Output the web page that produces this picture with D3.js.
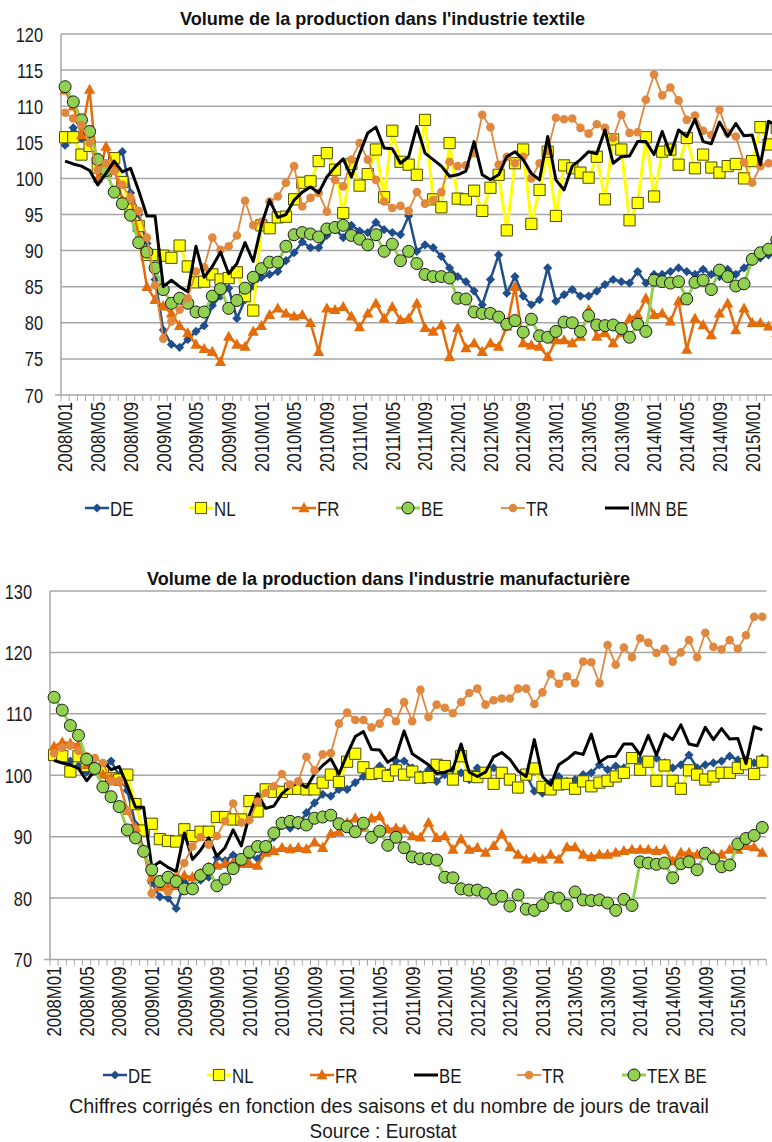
<!DOCTYPE html>
<html>
<head>
<meta charset="utf-8">
<script src="https://cdn.jsdelivr.net/npm/d3@7"></script>
<style>
  body { margin: 0; background: #fff; }
  svg { display: block; font-family: "Liberation Sans", Arial, sans-serif; }
</style>
</head>
<body>
<svg id="chart" width="772" height="1142"></svg>
<script>
// categories: 2008M01 .. 2015M04
const months = d3.range(88).map(i => `${2008 + Math.floor(i / 12)}M${String(i % 12 + 1).padStart(2, "0")}`);

// textile industry (top chart)
const deTex = [104.6,107.0,105.5,105.0,101.5,102.0,102.5,103.7,98.0,95.0,91.0,86.0,79.0,77.0,76.6,77.7,78.8,79.6,82.4,83.7,84.8,80.6,83.2,85.1,86.3,86.7,87.1,88.6,89.7,91.2,90.4,90.4,92.1,93.0,91.8,93.5,92.7,92.5,93.9,92.9,92.5,92.2,94.8,89.9,90.8,90.4,89.2,87.6,86.4,85.7,84.4,82.5,86.0,89.4,84.1,86.4,83.7,82.5,83.2,87.6,83.0,83.9,84.6,83.7,83.7,84.4,85.3,86.0,85.7,85.5,87.1,85.5,86.7,86.7,87.1,87.6,87.1,86.7,87.4,86.7,86.4,87.4,86.7,87.6,88.5,89.0,89.4,89.9];
const nlTex = [105.7,105.7,103.3,104.5,101.5,101.0,102.8,99.5,95.7,93.4,89.4,89.4,89.3,89.0,90.7,87.8,85.6,85.7,86.7,86.0,86.2,87.0,83.7,81.7,93.5,93.1,94.6,94.7,97.1,99.4,99.6,102.4,103.5,101.2,95.2,102.0,99.0,100.6,104.0,97.4,106.6,102.3,101.9,100.5,108.1,97.1,96.0,104.9,97.2,97.1,98.3,95.5,98.7,100.5,92.8,102.1,104.0,93.7,98.4,103.7,94.8,101.8,101.4,100.8,100.1,103.0,97.1,105.4,104.0,94.2,96.6,105.7,97.5,103.7,104.0,101.9,105.6,101.4,103.3,101.5,100.8,101.7,102.0,100.0,102.4,107.1,104.7,107.0];
const frTex = [112.2,110.0,106.0,112.3,100.0,104.4,101.5,97.0,97.5,92.0,85.0,83.2,82.3,81.3,79.6,78.6,77.0,76.4,76.0,74.6,78.1,77.0,76.7,78.8,79.6,81.1,82.0,81.3,80.9,81.1,80.0,76.0,82.0,81.8,82.2,80.9,79.4,81.3,82.7,80.6,82.2,80.4,80.6,82.7,79.3,78.8,79.7,75.3,79.3,76.5,77.2,76.0,77.2,76.7,79.5,85.0,77.2,76.9,76.7,75.3,77.6,77.6,77.2,78.1,81.8,78.1,78.6,77.2,78.6,80.6,81.1,83.4,81.1,81.3,80.2,83.0,76.3,80.6,79.7,78.3,81.3,82.7,79.0,82.0,80.0,80.0,79.5,78.6];
const trTex = [109.1,108.3,107.4,104.9,101.2,102.1,101.0,99.1,97.3,95.5,91.8,85.2,77.8,80.2,81.8,83.4,87.1,87.7,91.8,90.1,90.6,92.1,96.9,93.5,94.0,96.8,97.5,99.4,101.7,96.1,97.3,98.0,95.4,99.8,98.9,102.6,104.9,102.6,99.8,96.8,95.9,96.2,95.5,98.1,96.5,97.0,98.1,102.3,101.7,101.8,103.5,108.8,107.1,101.9,103.0,102.1,103.0,100.0,102.1,103.8,108.4,108.2,108.3,107.0,106.2,107.5,107.0,105.6,108.8,106.3,106.4,110.9,114.4,111.5,112.6,110.8,108.1,108.7,106.6,106.0,109.5,106.3,105.8,102.2,99.4,101.7,102.1,102.6];
// Belgium: textile (green) and manufacturing (black), shown in both charts
const beTex = [112.7,110.6,108.1,106.5,102.6,101.1,98.1,96.5,94.9,91.1,89.8,87.6,84.6,82.7,83.4,82.7,81.5,81.5,83.7,84.7,82.0,83.1,84.8,86.3,87.5,88.4,88.4,90.6,92.2,92.5,92.3,91.9,93.0,93.2,93.5,92.1,91.6,90.8,92.2,89.9,90.9,88.6,89.9,88.2,86.7,86.4,86.4,86.2,83.4,83.3,81.5,81.3,81.3,80.8,79.8,80.3,78.7,80.5,78.2,78.0,78.8,80.1,80.0,78.8,81.0,79.7,79.6,79.7,79.2,78.0,79.8,78.8,85.9,85.7,85.5,85.7,83.3,85.6,85.9,84.6,87.3,86.4,85.1,85.4,88.8,89.7,90.2,91.5];
const beMan = [102.4,102.0,101.7,101.1,99.1,100.7,102.4,100.9,101.4,98.3,94.8,94.8,85.0,85.9,85.0,84.3,90.6,86.3,87.8,89.8,86.8,88.2,91.1,88.5,93.5,97.0,94.6,95.0,97.0,98.1,98.8,98.0,100.2,101.6,102.7,100.2,103.4,106.3,107.1,104.2,104.1,102.1,103.0,107.2,103.5,102.6,101.7,100.3,100.5,101.0,105.1,100.5,99.8,100.5,103.0,103.7,102.6,100.7,99.8,105.8,99.8,98.4,101.7,102.6,103.7,103.4,106.7,102.1,103.0,103.1,105.1,105.1,103.3,106.5,103.3,106.7,105.8,108.2,105.1,104.8,107.8,105.8,107.6,105.9,106.0,101.9,107.9,107.4];

// manufacturing industry (bottom chart)
const deMan = [103.0,103.0,102.3,101.5,100.5,101.0,101.0,102.3,100.0,97.5,92.0,88.0,82.5,80.2,80.0,78.3,82.6,82.0,82.9,83.4,86.6,86.1,87.0,86.4,86.9,86.4,88.2,89.9,91.8,91.4,91.8,93.9,95.5,96.9,96.6,97.7,97.7,98.8,99.8,100.1,101.5,100.4,102.3,102.3,101.2,100.1,100.9,99.0,100.1,100.9,100.4,99.3,101.2,100.4,101.2,100.4,99.0,98.0,100.1,97.4,97.1,98.8,99.8,99.0,99.3,100.1,100.4,101.7,100.9,101.5,101.2,102.5,102.5,102.3,102.8,102.0,101.2,101.7,103.3,101.2,101.7,102.0,102.3,103.1,102.5,102.5,102.0,102.8];
const nlMan = [103.3,103.1,100.6,103.1,101.5,101.0,100.5,99.5,99.3,100.1,95.3,91.0,92.1,89.6,89.3,89.2,91.2,90.1,90.8,90.8,93.2,93.2,92.8,92.8,95.8,94.1,97.7,97.3,97.3,97.8,97.8,97.7,97.7,98.8,100.1,98.9,102.2,103.5,101.3,100.2,100.4,99.9,100.8,100.1,100.6,99.6,99.7,101.7,101.5,99.3,103.1,99.9,99.7,100.4,98.6,100.4,99.3,98.0,100.1,101.1,98.1,97.7,98.5,98.6,97.8,99.0,98.2,98.8,99.1,99.8,100.4,102.8,100.9,102.2,99.1,101.6,99.1,97.8,100.8,100.1,99.3,99.8,100.4,100.4,101.2,101.8,100.2,102.2];
const frMan = [104.7,105.4,105.2,105.0,101.7,100.6,100.1,99.6,99.0,94.2,91.5,87.7,83.4,81.8,81.8,82.0,83.7,83.4,84.0,85.0,85.3,85.6,85.8,85.6,85.6,85.3,87.4,87.7,88.2,88.0,88.2,88.0,89.1,88.2,90.5,90.8,92.3,93.0,91.5,93.0,93.3,91.2,91.4,91.2,90.1,89.9,92.3,89.8,90.1,87.9,89.6,87.9,88.2,87.4,88.5,90.4,88.3,87.1,86.3,86.6,86.3,87.1,86.3,88.3,88.3,87.1,86.7,87.1,87.1,87.4,87.7,87.9,87.9,87.9,87.7,87.9,86.0,87.4,87.4,87.1,87.1,87.1,87.1,87.9,87.9,88.5,88.3,87.4];
const trMan = [103.6,104.5,104.8,104.0,103.1,102.8,102.0,99.0,99.1,94.2,91.2,87.7,80.8,82.6,81.0,83.5,85.7,88.4,89.9,88.7,90.1,92.5,95.4,92.3,92.7,95.7,97.1,98.2,100.2,98.5,99.0,103.0,100.8,103.4,103.6,108.4,110.2,109.0,109.0,107.8,108.4,110.3,108.8,111.9,108.8,113.9,109.5,111.5,111.0,110.1,111.9,113.4,114.1,111.5,112.2,112.5,112.5,114.1,114.1,111.6,113.5,116.5,114.9,116.1,115.0,118.5,118.4,115.0,121.2,118.0,120.8,119.2,122.3,121.6,119.9,120.6,118.5,120.0,122.0,119.2,123.2,120.9,120.5,122.0,120.6,122.8,125.8,125.8];

const topTicks = [70, 75, 80, 85, 90, 95, 100, 105, 110, 115, 120];
const bottomTicks = [70, 80, 90, 100, 110, 120, 130];

const C = {
  de: "#1F4E8C", nl: "#FFFF00", fr: "#E46C0A", green: "#92D050", tr: "#E0883E", black: "#000000"
};

const styles = {
  de:    { line: C.de, width: 2.5, marker: "diamond", fill: C.de, stroke: "none", r: 4.6 },
  nl:    { line: C.nl, width: 3, marker: "square", fill: C.nl, stroke: "#4d4d00", r: 5.6 },
  fr:    { line: C.fr, width: 2.5, marker: "triangle", fill: C.fr, stroke: "none", r: 5.6 },
  green: { line: C.green, width: 3, marker: "circle", fill: C.green, stroke: "#1a1a1a", r: 6 },
  tr:    { line: C.tr, width: 1.8, marker: "circle", fill: C.tr, stroke: "none", r: 4.3 },
  black: { line: C.black, width: 3, marker: null }
};

// Arial Narrow look: Liberation Sans squeezed horizontally
const NARROW = 0.82;

function markerPath(type, r) {
  if (type === "diamond") return `M0,${-r}L${r},0L0,${r}L${-r},0Z`;
  if (type === "square") return `M${-r},${-r}H${r}V${r}H${-r}Z`;
  if (type === "triangle") return `M0,${-r * 1.05}L${r},${r * 0.75}L${-r},${r * 0.75}Z`;
  return d3.symbol(d3.symbolCircle, Math.PI * r * r)();
}

const svg = d3.select("#chart");

function drawChart(cfg) {
  const g = svg.append("g");

  const x = d3.scaleBand().domain(months).range(cfg.xRange).padding(0);
  const y = d3.scaleLinear().domain([70, cfg.yMax]).range(cfg.yRange);
  const [x0, x1] = cfg.xRange;

  // gridlines
  g.selectAll(".grid")
    .data(cfg.ticks.filter(t => t > 70))
    .join("line")
    .attr("x1", x0).attr("x2", x1)
    .attr("y1", d => y(d)).attr("y2", d => y(d))
    .attr("stroke", "#A6A6A6").attr("stroke-width", 1.5);

  // y axis
  g.append("line")
    .attr("x1", x0).attr("x2", x0)
    .attr("y1", y(cfg.yMax)).attr("y2", y(70))
    .attr("stroke", "#A6A6A6").attr("stroke-width", 1.5);

  g.selectAll(".ylab")
    .data(cfg.ticks)
    .join("text")
    .attr("transform", d => `translate(${x0 - 18},${y(d) + 7.5}) scale(${NARROW},1)`)
    .attr("text-anchor", "end")
    .attr("font-size", 20)
    .attr("fill", "#1a1a1a")
    .text(d => d);

  // x axis with a tick at each category boundary
  g.append("line")
    .attr("x1", x0 - 6).attr("x2", x1)
    .attr("y1", y(70)).attr("y2", y(70))
    .attr("stroke", "#A6A6A6").attr("stroke-width", 1.5);

  g.selectAll(".xtick")
    .data(months.concat(["end"]))
    .join("line")
    .attr("x1", d => d === "end" ? x1 : x(d))
    .attr("x2", d => d === "end" ? x1 : x(d))
    .attr("y1", y(70)).attr("y2", y(70) + 6)
    .attr("stroke", "#A6A6A6").attr("stroke-width", 1);

  g.selectAll(".xlab")
    .data(months.filter((m, i) => i % 4 === 0))
    .join("text")
    .attr("transform", d => `translate(${x(d) + x.bandwidth() / 2 + 7.3},${y(70) + 7}) rotate(-90) scale(${NARROW},1)`)
    .attr("text-anchor", "end")
    .attr("font-size", 20.5)
    .attr("fill", "#1a1a1a")
    .text(d => d);

  // title
  g.append("text")
    .attr("x", cfg.titleX - cfg.titleW / 2).attr("y", cfg.titleY)
    .attr("textLength", cfg.titleW)
    .attr("lengthAdjust", "spacingAndGlyphs")
    .attr("font-size", 18.5).attr("font-weight", "bold")
    .attr("fill", "#111")
    .text(cfg.title);

  // series
  const clipId = "clip" + cfg.id;
  svg.append("clipPath").attr("id", clipId)
    .append("rect").attr("x", 0).attr("y", 0).attr("width", 772).attr("height", 1142);

  const line = d3.line()
    .x((d, i) => x(months[i]) + x.bandwidth() / 2)
    .y(d => y(d));

  cfg.series.forEach(s => {
    const st = styles[s.style];
    const sg = g.append("g").attr("clip-path", `url(#${clipId})`);
    sg.append("path")
      .attr("d", line(s.values))
      .attr("fill", "none")
      .attr("stroke", st.line)
      .attr("stroke-width", st.width)
      .attr("stroke-linejoin", "round");
    if (st.marker) {
      sg.selectAll("path.m")
        .data(s.values)
        .join("path")
        .attr("class", "m")
        .attr("transform", (d, i) => `translate(${x(months[i]) + x.bandwidth() / 2},${y(d)})`)
        .attr("d", markerPath(st.marker, st.r))
        .attr("fill", st.fill)
        .attr("stroke", st.stroke)
        .attr("stroke-width", 1);
    }
  });

  // legend
  const lg = g.append("g");
  cfg.series.forEach((s, k) => {
    const st = styles[s.style];
    const lx = cfg.legendX[k];
    const ly = cfg.legendY;
    lg.append("line")
      .attr("x1", lx).attr("x2", lx + 24)
      .attr("y1", ly).attr("y2", ly)
      .attr("stroke", st.line).attr("stroke-width", st.width);
    if (st.marker) {
      lg.append("path")
        .attr("transform", `translate(${lx + 12},${ly})`)
        .attr("d", markerPath(st.marker, st.r))
        .attr("fill", st.fill)
        .attr("stroke", st.stroke)
        .attr("stroke-width", 1);
    }
    lg.append("text")
      .attr("transform", `translate(${lx + 25},${ly + 7.5}) scale(${NARROW},1)`)
      .attr("font-size", 20.5)
      .attr("fill", "#1a1a1a")
      .text(s.name);
  });
}

drawChart({
  id: "top",
  title: "Volume de la production dans l'industrie textile",
  titleX: 382.5, titleY: 24.5, titleW: 405,
  xRange: [61, 61 + 88 * 8.18],
  yMax: 120, yRange: [395, 34],
  ticks: topTicks,
  legendY: 508,
  legendX: [85, 189, 292, 396, 501, 605],
  series: [
    { name: "DE", values: deTex, style: "de" },
    { name: "NL", values: nlTex, style: "nl" },
    { name: "FR", values: frTex, style: "fr" },
    { name: "BE", values: beTex, style: "green" },
    { name: "TR", values: trTex, style: "tr" },
    { name: "IMN BE", values: beMan, style: "black" }
  ]
});

drawChart({
  id: "bottom",
  title: "Volume de la production dans l'industrie manufacturière",
  titleX: 388.5, titleY: 585, titleW: 483,
  xRange: [50, 50 + 88 * 8.14],
  yMax: 130, yRange: [959.5, 591],
  ticks: bottomTicks,
  legendY: 1075,
  legendX: [103, 207, 310, 414, 517, 622],
  series: [
    { name: "DE", values: deMan, style: "de" },
    { name: "NL", values: nlMan, style: "nl" },
    { name: "FR", values: frMan, style: "fr" },
    { name: "BE", values: beMan, style: "black" },
    { name: "TR", values: trMan, style: "tr" },
    { name: "TEX BE", values: beTex, style: "green" }
  ]
});

svg.append("text")
  .attr("x", 389 - 320).attr("y", 1113)
  .attr("textLength", 640).attr("lengthAdjust", "spacingAndGlyphs")
  .attr("font-size", 20).attr("fill", "#1a1a1a")
  .text("Chiffres corrigés en fonction des saisons et du nombre de jours de travail");

svg.append("text")
  .attr("x", 383 - 73.5).attr("y", 1138)
  .attr("textLength", 147).attr("lengthAdjust", "spacingAndGlyphs")
  .attr("font-size", 20).attr("fill", "#1a1a1a")
  .text("Source : Eurostat");
</script>
</body>
</html>
